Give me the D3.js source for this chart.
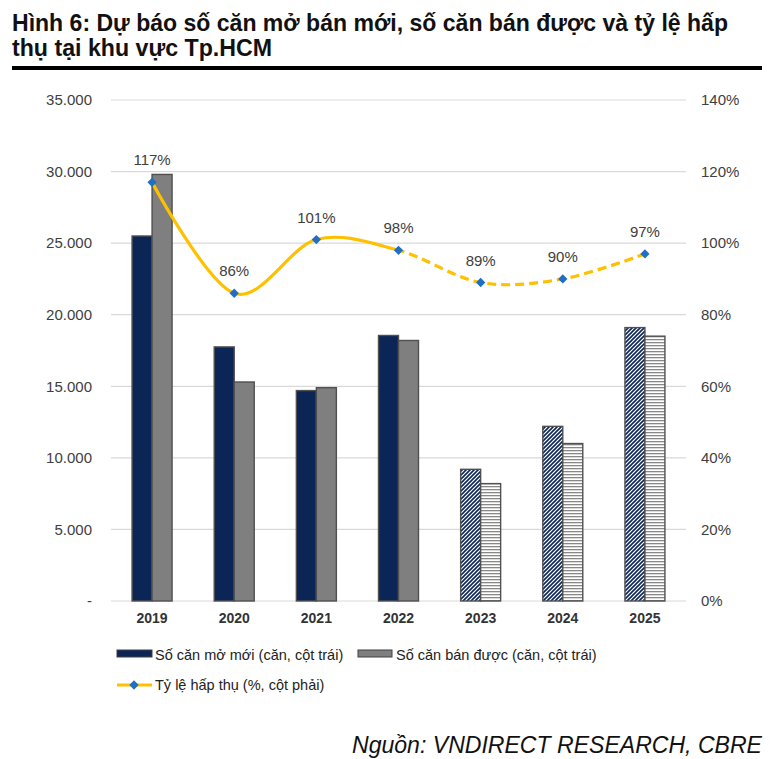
<!DOCTYPE html>
<html><head><meta charset="utf-8">
<script src="https://cdn.jsdelivr.net/npm/d3@7/dist/d3.min.js"></script>
<style>body{margin:0;background:#fff}svg{display:block}</style>
</head><body>
<svg id="c" width="783" height="759"></svg>
<script>
const years = ["2019","2020","2021","2022","2023","2024","2025"];
const newUnits = [25500, 17750, 14700, 18550, 9200, 12200, 19100];
const soldUnits = [29800, 15300, 14900, 18200, 8200, 11000, 18500];
const absorption = [117, 86, 101, 98, 89, 90, 97];
const forecast = [false, false, false, false, true, true, true];
const leftTicks = [0, 5000, 10000, 15000, 20000, 25000, 30000, 35000];
const rightTicks = [0, 20, 40, 60, 80, 100, 120, 140];
const titleLines = ["Hình 6: Dự báo số căn mở bán mới, số căn bán được và tỷ lệ hấp", "thụ tại khu vực Tp.HCM"];
const legendLabels = ["Số căn mở mới (căn, cột trái)", "Số căn bán được (căn, cột trái)", "Tỷ lệ hấp thụ (%, cột phải)"];
const source = "Nguồn: VNDIRECT RESEARCH, CBRE";

const svg = d3.select("#c");
const font = "Liberation Sans, Arial, sans-serif";
const navy = "#0B2557", grayc = "#7F7F7F", yellow = "#FFC000", blue = "#1F6FC5";

// defs
const defs = svg.append("defs");
const p1 = defs.append("pattern").attr("id","diag").attr("patternUnits","userSpaceOnUse").attr("width",4).attr("height",4);
p1.append("rect").attr("width",4).attr("height",4).attr("fill","#fff");
p1.append("path").attr("d","M-1,1 l2,-2 M0,4 l4,-4 M3,5 l2,-2").attr("stroke",navy).attr("stroke-width",1.6);
const p2 = defs.append("pattern").attr("id","horiz").attr("patternUnits","userSpaceOnUse").attr("width",4).attr("height",3);
p2.append("rect").attr("width",4).attr("height",3).attr("fill","#fff");
p2.append("rect").attr("y",0).attr("width",4).attr("height",1.3).attr("fill","#888");

// title
const titleWidths = [716, 260];
svg.append("g").selectAll("text").data(titleLines).join("text")
  .attr("x",12).attr("y",(d,i)=>31+i*25)
  .attr("font-family",font).attr("font-weight","bold").attr("font-size",24)
  .attr("textLength",(d,i)=>titleWidths[i]).attr("lengthAdjust","spacingAndGlyphs")
  .attr("fill","#111").text(d=>d);
svg.append("rect").attr("x",12).attr("y",66).attr("width",750).attr("height",4).attr("fill","#000");

const x0 = d3.scaleBand().domain(years).range([111,686]);
const yL = d3.scaleLinear().domain([0,35000]).range([601,100]);
const yR = d3.scaleLinear().domain([0,140]).range([601,100]);

// grid
svg.append("g").selectAll("line").data(leftTicks).join("line")
  .attr("x1",111).attr("x2",686).attr("y1",d=>yL(d)).attr("y2",d=>yL(d))
  .attr("stroke","#D9D9D9").attr("stroke-width",1.2);

// left axis
const axL = svg.append("g").attr("transform","translate(92,0)")
  .call(d3.axisLeft(yL).tickValues(leftTicks).tickSize(0).tickPadding(0)
    .tickFormat(d=> d===0 ? "-" : d3.format(",")(d).replace(/,/g,".")));
axL.select(".domain").remove();
axL.selectAll("text").attr("font-family",font).attr("font-size",15).attr("fill","#404040");

const axR = svg.append("g").attr("transform","translate(701,0)")
  .call(d3.axisRight(yR).tickValues(rightTicks).tickSize(0).tickPadding(0).tickFormat(d=>d+"%"));
axR.select(".domain").remove();
axR.selectAll("text").attr("font-family",font).attr("font-size",15).attr("fill","#404040");

const axB = svg.append("g").attr("transform","translate(0,601)")
  .call(d3.axisBottom(x0).tickSize(0).tickPadding(12));
axB.select(".domain").remove();
axB.selectAll("text").attr("font-family",font).attr("font-size",14).attr("font-weight","bold").attr("fill","#333");

// bars
const bw = 20;
const bars = svg.append("g");
years.forEach((yr,i)=>{
  const cx = x0(yr)+x0.bandwidth()/2;
  bars.append("rect").attr("x",cx-bw).attr("y",yL(newUnits[i])).attr("width",bw).attr("height",yL(0)-yL(newUnits[i]))
    .attr("fill", forecast[i] ? "url(#diag)" : navy).attr("stroke","#505050").attr("stroke-width",1.4);
  bars.append("rect").attr("x",cx).attr("y",yL(soldUnits[i])).attr("width",bw).attr("height",yL(0)-yL(soldUnits[i]))
    .attr("fill", forecast[i] ? "url(#horiz)" : grayc).attr("stroke","#505050").attr("stroke-width",1.4);
});

// line
const pts = years.map((yr,i)=>[x0(yr)+x0.bandwidth()/2, yR(absorption[i])]);
const line = d3.line().curve(d3.curveCatmullRom.alpha(0));
const splitX = pts[3][0];
defs.append("clipPath").attr("id","cl1").append("rect").attr("x",0).attr("y",0).attr("width",splitX).attr("height",759);
defs.append("clipPath").attr("id","cl2").append("rect").attr("x",splitX).attr("y",0).attr("width",783-splitX).attr("height",759);
svg.append("path").attr("d",line(pts)).attr("fill","none").attr("stroke",yellow).attr("stroke-width",3.2).attr("clip-path","url(#cl1)");
svg.append("path").attr("d",line(pts)).attr("fill","none").attr("stroke",yellow).attr("stroke-width",3.2)
  .attr("stroke-dasharray","9,5").attr("clip-path","url(#cl2)");
const sym = d3.symbol().type(d3.symbolDiamond2).size(55);
svg.append("g").selectAll("path").data(pts).join("path")
  .attr("transform",d=>`translate(${d[0]},${d[1]})`).attr("d",sym).attr("fill",blue);
svg.append("g").selectAll("text").data(pts).join("text")
  .attr("x",d=>d[0]).attr("y",d=>d[1]-17).attr("text-anchor","middle")
  .attr("font-family",font).attr("font-size",15).attr("fill","#404040")
  .text((d,i)=>absorption[i]+"%");

// legend
const lg = svg.append("g").attr("font-family",font).attr("font-size",14.5).attr("fill","#222");
lg.append("rect").attr("x",117).attr("y",650).attr("width",35).attr("height",7).attr("fill",navy).attr("stroke","#404040");
lg.append("text").attr("x",155).attr("y",660).text(legendLabels[0]);
lg.append("rect").attr("x",358).attr("y",650).attr("width",34).attr("height",7).attr("fill",grayc).attr("stroke","#404040");
lg.append("text").attr("x",396).attr("y",660).text(legendLabels[1]);
lg.append("line").attr("x1",117).attr("x2",152).attr("y1",685).attr("y2",685).attr("stroke",yellow).attr("stroke-width",3);
lg.append("path").attr("transform","translate(134,685)").attr("d",sym).attr("fill",blue);
lg.append("text").attr("x",155).attr("y",690).text(legendLabels[2]);

svg.append("text").attr("x",762).attr("y",753).attr("text-anchor","end")
  .attr("font-family",font).attr("font-style","italic").attr("font-size",23).attr("fill","#111")
  .attr("textLength",410).attr("lengthAdjust","spacingAndGlyphs").text(source);
</script>
</body></html>
